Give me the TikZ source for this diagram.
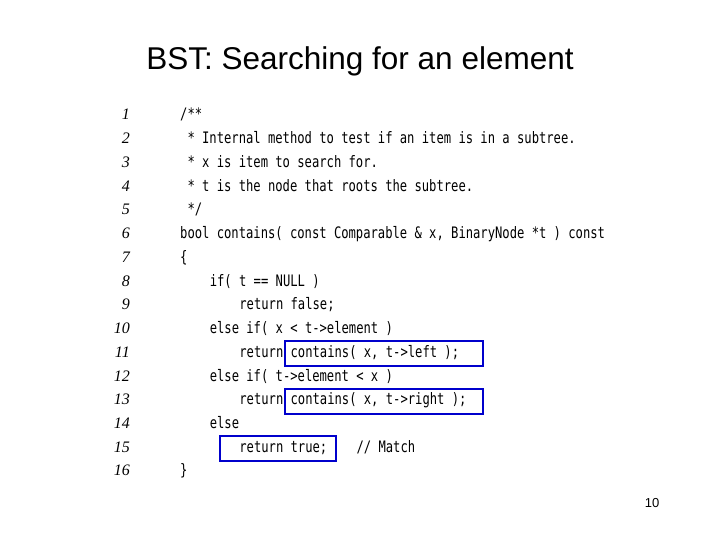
\documentclass[tikz,border=0pt]{standalone}
\usepackage{fontspec}
\setmainfont{Liberation Sans}
\newfontfamily\codefont[FakeStretch=0.77]{DejaVu Sans Mono}
\newfontfamily\numfont{Liberation Serif}
\begin{document}
\begin{tikzpicture}[x=1pt,y=-1pt,
  codeline/.style={anchor=base west,inner sep=0pt,font=\codefont\fontsize{15.8}{16}\selectfont},
  numline/.style={anchor=base east,inner sep=0pt,font=\numfont\itshape\fontsize{16}{16}\selectfont},
  hbox/.style={draw=blue!80!black,line width=1.6pt}]
\useasboundingbox (0,0) rectangle (720,540);
\node[font=\fontsize{31.5}{33}\selectfont] (title) at (360,61) {BST: Searching for an element};
\foreach \i/\t/\c in {
1/0/{/**},
2/0/{ * Internal method to test if an item is in a subtree.},
3/0/{ * x is item to search for.},
4/0/{ * t is the node that roots the subtree.},
5/0/{ */},
6/0/{bool contains( const Comparable \& x, BinaryNode *t ) const},
7/0/{\{},
8/1/{if( t == NULL )},
9/2/{return false;},
10/1/{else if( x < t->element )},
11/2/{return contains( x, t->left );},
12/1/{else if( t->element < x )},
13/2/{return contains( x, t->right );},
14/1/{else},
15/2/{return true;\ \ \ \ // Match},
16/0/{\}}}{
  \node[numline] (n\i) at (130,{115+(\i-1)*23.73+5}) {\i};
  \node[codeline] (c\i) at ({180+\t*29.6},{115+(\i-1)*23.73+5}) {\obeyspaces\c};
}
\node[hbox,minimum width=198pt,minimum height=25pt,inner sep=0pt] (b11) at (384,353.5) {};
\node[hbox,minimum width=198pt,minimum height=25pt,inner sep=0pt] (b13) at (384,401.5) {};
\node[hbox,minimum width=116pt,minimum height=25pt,inner sep=0pt] (b15) at (278,448.5) {};
\node[font=\fontsize{13}{14}\selectfont] (pg) at (652,503) {10};
\end{tikzpicture}
\end{document}
